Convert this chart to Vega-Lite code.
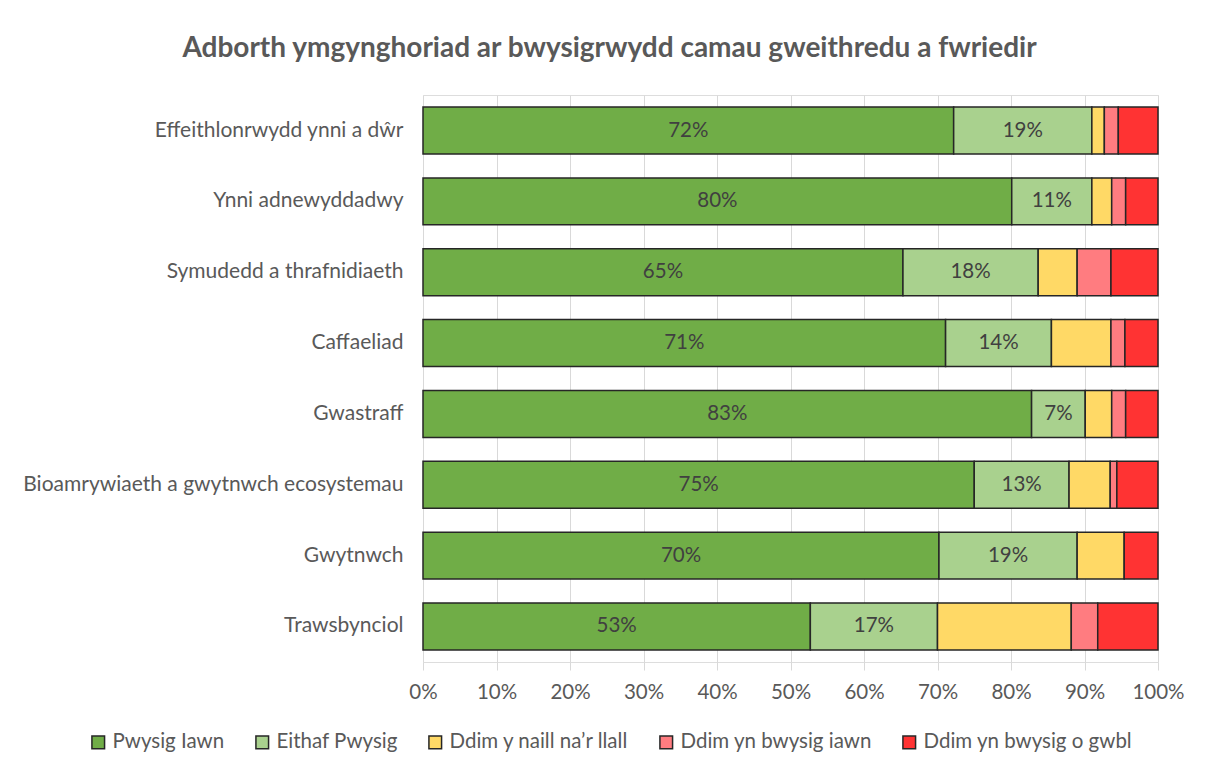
{
  "$schema": "https://vega.github.io/schema/vega-lite/v6.json",
  "autosize": "none",
  "width": 735,
  "height": 567,
  "padding": {"left": 423, "top": 95, "right": 47, "bottom": 110},
  "background": "white",
  "title": {
    "text": "Adborth ymgynghoriad ar bwysigrwydd camau gweithredu a fwriedir",
    "font": "Lato",
    "fontSize": 28,
    "fontWeight": "bold",
    "color": "#595959",
    "anchor": "middle",
    "frame": "group",
    "dx": -181,
    "offset": 32
  },
  "datasets": {
    "cats": [
      {"c": "Pwysig Iawn", "k": 1},
      {"c": "Eithaf Pwysig", "k": 2},
      {"c": "Ddim y naill na’r llall", "k": 3},
      {"c": "Ddim yn bwysig iawn", "k": 4},
      {"c": "Ddim yn bwysig o gwbl", "k": 5}
    ],
    "resp": [
      {"a": "Effeithlonrwydd ynni a dŵr", "c": "Pwysig Iawn", "v": 0.722},
      {"a": "Effeithlonrwydd ynni a dŵr", "c": "Eithaf Pwysig", "v": 0.188},
      {"a": "Effeithlonrwydd ynni a dŵr", "c": "Ddim y naill na’r llall", "v": 0.017},
      {"a": "Effeithlonrwydd ynni a dŵr", "c": "Ddim yn bwysig iawn", "v": 0.019},
      {"a": "Effeithlonrwydd ynni a dŵr", "c": "Ddim yn bwysig o gwbl", "v": 0.054},
      {"a": "Ynni adnewyddadwy", "c": "Pwysig Iawn", "v": 0.801},
      {"a": "Ynni adnewyddadwy", "c": "Eithaf Pwysig", "v": 0.109},
      {"a": "Ynni adnewyddadwy", "c": "Ddim y naill na’r llall", "v": 0.027},
      {"a": "Ynni adnewyddadwy", "c": "Ddim yn bwysig iawn", "v": 0.019},
      {"a": "Ynni adnewyddadwy", "c": "Ddim yn bwysig o gwbl", "v": 0.044},
      {"a": "Symudedd a thrafnidiaeth", "c": "Pwysig Iawn", "v": 0.653},
      {"a": "Symudedd a thrafnidiaeth", "c": "Eithaf Pwysig", "v": 0.184},
      {"a": "Symudedd a thrafnidiaeth", "c": "Ddim y naill na’r llall", "v": 0.053},
      {"a": "Symudedd a thrafnidiaeth", "c": "Ddim yn bwysig iawn", "v": 0.046},
      {"a": "Symudedd a thrafnidiaeth", "c": "Ddim yn bwysig o gwbl", "v": 0.064},
      {"a": "Caffaeliad", "c": "Pwysig Iawn", "v": 0.711},
      {"a": "Caffaeliad", "c": "Eithaf Pwysig", "v": 0.144},
      {"a": "Caffaeliad", "c": "Ddim y naill na’r llall", "v": 0.081},
      {"a": "Caffaeliad", "c": "Ddim yn bwysig iawn", "v": 0.019},
      {"a": "Caffaeliad", "c": "Ddim yn bwysig o gwbl", "v": 0.045},
      {"a": "Gwastraff", "c": "Pwysig Iawn", "v": 0.828},
      {"a": "Gwastraff", "c": "Eithaf Pwysig", "v": 0.073},
      {"a": "Gwastraff", "c": "Ddim y naill na’r llall", "v": 0.036},
      {"a": "Gwastraff", "c": "Ddim yn bwysig iawn", "v": 0.019},
      {"a": "Gwastraff", "c": "Ddim yn bwysig o gwbl", "v": 0.044},
      {"a": "Bioamrywiaeth a gwytnwch ecosystemau", "c": "Pwysig Iawn", "v": 0.750},
      {"a": "Bioamrywiaeth a gwytnwch ecosystemau", "c": "Eithaf Pwysig", "v": 0.129},
      {"a": "Bioamrywiaeth a gwytnwch ecosystemau", "c": "Ddim y naill na’r llall", "v": 0.056},
      {"a": "Bioamrywiaeth a gwytnwch ecosystemau", "c": "Ddim yn bwysig iawn", "v": 0.009},
      {"a": "Bioamrywiaeth a gwytnwch ecosystemau", "c": "Ddim yn bwysig o gwbl", "v": 0.056},
      {"a": "Gwytnwch", "c": "Pwysig Iawn", "v": 0.702},
      {"a": "Gwytnwch", "c": "Eithaf Pwysig", "v": 0.188},
      {"a": "Gwytnwch", "c": "Ddim y naill na’r llall", "v": 0.064},
      {"a": "Gwytnwch", "c": "Ddim yn bwysig o gwbl", "v": 0.046},
      {"a": "Trawsbynciol", "c": "Pwysig Iawn", "v": 0.527},
      {"a": "Trawsbynciol", "c": "Eithaf Pwysig", "v": 0.173},
      {"a": "Trawsbynciol", "c": "Ddim y naill na’r llall", "v": 0.182},
      {"a": "Trawsbynciol", "c": "Ddim yn bwysig iawn", "v": 0.036},
      {"a": "Trawsbynciol", "c": "Ddim yn bwysig o gwbl", "v": 0.082}
    ]
  },
  "data": {"name": "resp"},
  "transform": [
    {"lookup": "c", "from": {"data": {"name": "cats"}, "key": "c", "fields": ["k"]}}
  ],
  "encoding": {
    "y": {
      "field": "a",
      "type": "nominal",
      "sort": null,
      "title": null,
      "scale": {"paddingInner": 0.337, "paddingOuter": 0.17},
      "axis": {
        "ticks": false,
        "domain": false,
        "labelPadding": 20,
        "labelFont": "Lato",
        "labelFontSize": 21,
        "labelColor": "#595959",
        "labelLimit": 500
      }
    }
  },
  "layer": [
    {
      "mark": {"type": "bar", "stroke": "#262626", "strokeWidth": 1.5},
      "encoding": {
        "x": {
          "field": "v",
          "type": "quantitative",
          "aggregate": "sum",
          "stack": "normalize",
          "title": null,
          "scale": {"domain": [0, 1], "nice": false},
          "axis": {
            "format": ".0%",
            "values": [0, 0.1, 0.2, 0.3, 0.4, 0.5, 0.6, 0.7, 0.8, 0.9, 1],
            "labelOverlap": false,
            "labelFlush": false,
            "domain": false,
            "grid": true,
            "gridColor": "#d9d9d9",
            "gridWidth": 1,
            "ticks": true,
            "tickColor": "#d9d9d9",
            "tickSize": 8,
            "labelPadding": 12,
            "labelFont": "Lato",
            "labelFontSize": 20.5,
            "labelColor": "#595959"
          }
        },
        "order": {"field": "k", "type": "quantitative", "sort": "ascending"},
        "color": {
          "field": "c",
          "type": "nominal",
          "scale": {
            "domain": ["Pwysig Iawn", "Eithaf Pwysig", "Ddim y naill na’r llall", "Ddim yn bwysig iawn", "Ddim yn bwysig o gwbl"],
            "range": ["#70AD47", "#A9D18E", "#FFD966", "#FF7C80", "#FF3333"]
          },
          "legend": {
            "title": null,
            "orient": "none",
            "direction": "horizontal",
            "legendX": -335,
            "legendY": 637,
            "symbolType": "square",
            "symbolSize": 160,
            "symbolStrokeColor": "#262626",
            "symbolStrokeWidth": 1.5,
            "labelFont": "Lato",
            "labelFontSize": 20.5,
            "labelColor": "#595959",
            "labelOffset": 4,
            "columnPadding": 27,
            "labelLimit": 400
          }
        }
      }
    },
    {
      "mark": {"type": "text", "font": "Lato", "fontSize": 20.5, "color": "#404040"},
      "encoding": {
        "x": {
          "field": "v",
          "type": "quantitative",
          "aggregate": "sum",
          "stack": "normalize",
          "bandPosition": 0.5
        },
        "detail": {"field": "c"},
        "order": {"field": "k", "type": "quantitative", "sort": "ascending"},
        "text": {
          "condition": {
            "test": "datum.c === 'Pwysig Iawn' || datum.c === 'Eithaf Pwysig'",
            "field": "v",
            "aggregate": "sum",
            "type": "quantitative",
            "format": ".0%"
          },
          "value": ""
        }
      }
    }
  ]
}
